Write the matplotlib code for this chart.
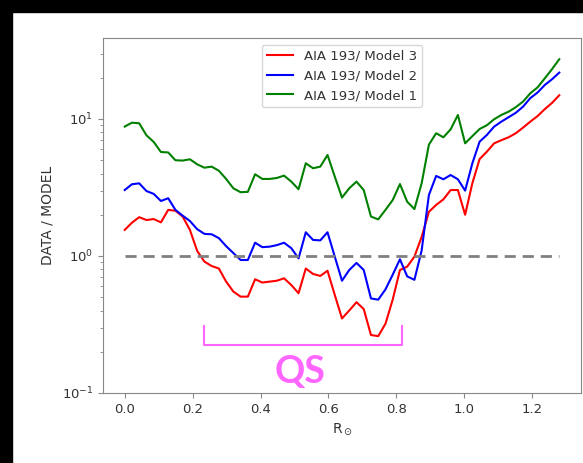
import numpy as np
import matplotlib.pyplot as plt
from matplotlib.patches import Rectangle

# radial positions (solar radii)
r_sun = np.linspace(0.0, 1.28, 61)

ratio_model3 = [1.55, 1.75, 1.92, 1.83, 1.86, 1.76, 2.17, 2.14, 1.94, 1.55,
                1.09, 0.91, 0.845, 0.81, 0.65, 0.55, 0.505, 0.505, 0.676, 0.64,
                0.65, 0.66, 0.687, 0.614, 0.535, 0.81, 0.74, 0.715, 0.78, 0.52,
                0.35, 0.40, 0.46, 0.41, 0.265, 0.26, 0.32, 0.48, 0.79, 0.836,
                0.99, 1.38, 2.1, 2.36, 2.59, 3.03, 3.03, 2.0, 3.4, 5.1,
                5.77, 6.64, 7.0, 7.35, 7.87, 8.65, 9.56, 10.5, 11.8, 13.1, 14.9]

ratio_model2 = [3.03, 3.34, 3.39, 2.98, 2.84, 2.52, 2.64, 2.17, 1.97, 1.8,
                1.57, 1.45, 1.44, 1.35, 1.18, 1.05, 0.935, 0.935, 1.25, 1.16,
                1.17, 1.2, 1.25, 1.14, 0.96, 1.49, 1.31, 1.3, 1.49, 0.99,
                0.66, 0.79, 0.89, 0.79, 0.49, 0.48, 0.57, 0.73, 0.946, 0.71,
                0.67, 1.1, 2.79, 3.84, 3.63, 3.9, 3.63, 3.0, 4.75, 6.83,
                7.64, 8.79, 9.56, 10.3, 11.1, 12.3, 14.2, 15.6, 17.7, 19.5, 21.8]

ratio_model1 = [8.8, 9.4, 9.3, 7.6, 6.8, 5.74, 5.7, 5.0, 4.97, 5.08,
                4.67, 4.41, 4.49, 4.19, 3.65, 3.12, 2.92, 2.94, 3.95, 3.65,
                3.65, 3.71, 3.86, 3.49, 3.07, 4.75, 4.37, 4.49, 5.46, 3.8,
                2.67, 3.12, 3.49, 3.03, 1.94, 1.85, 2.17, 2.56, 3.35, 2.49,
                2.2, 3.4, 6.5, 7.87, 7.35, 8.4, 10.7, 6.64, 7.5, 8.45,
                9.0, 9.95, 10.7, 11.3, 12.2, 13.4, 15.4, 17.0, 19.8, 23.1, 27.3]

# quiet-sun bracket
qs_x = [0.233, 0.233, 0.817, 0.817]
qs_y = [0.308, 0.224, 0.224, 0.308]

fig = plt.figure(figsize=(5.83, 4.63), dpi=100)
fig.patches.append(Rectangle((0, 0), 12 / 583, 1, transform=fig.transFigure, color='black', zorder=-1))
fig.patches.append(Rectangle((0, 1 - 12 / 463), 1, 12 / 463, transform=fig.transFigure, color='black', zorder=-1))

ax = fig.add_axes([103 / 583, 70 / 463, 478 / 583, 355 / 463])

ax.plot(r_sun, ratio_model3, color='red', lw=1.5, label='AIA 193/ Model 3')
ax.plot(r_sun, ratio_model2, color='blue', lw=1.5, label='AIA 193/ Model 2')
ax.plot(r_sun, ratio_model1, color='green', lw=1.5, label='AIA 193/ Model 1')
ax.plot([r_sun[0], r_sun[-1]], [1, 1], color='gray', ls='--', lw=2, dashes=(4, 2.5))

ax.plot(qs_x, qs_y, color='#ff66ff', lw=1.5)
ax.text(0.516, 0.142, 'QS', color='#ff66ff', fontsize=27, fontweight='bold',
        family='Lato', ha='center', va='center')

ax.set_yscale('log')
ax.set_ylim(0.1, 39)
ax.set_xlim(-0.064, 1.344)
ax.set_xticks([0.0, 0.2, 0.4, 0.6, 0.8, 1.0, 1.2])

for s in ax.spines.values():
    s.set_color('#888888')
ax.tick_params(colors='#888888', labelcolor='#333333', labelsize=9.5)
ax.tick_params(which='minor', colors='#888888')

ax.set_xlabel(r'R$_\odot$', fontsize=10, color='#333333')
ax.set_ylabel('DATA / MODEL', fontsize=10, color='#333333', labelpad=5)

ax.legend(loc='upper center', fontsize=9.5, labelcolor='#333333')

plt.savefig('out.png', dpi=100)
